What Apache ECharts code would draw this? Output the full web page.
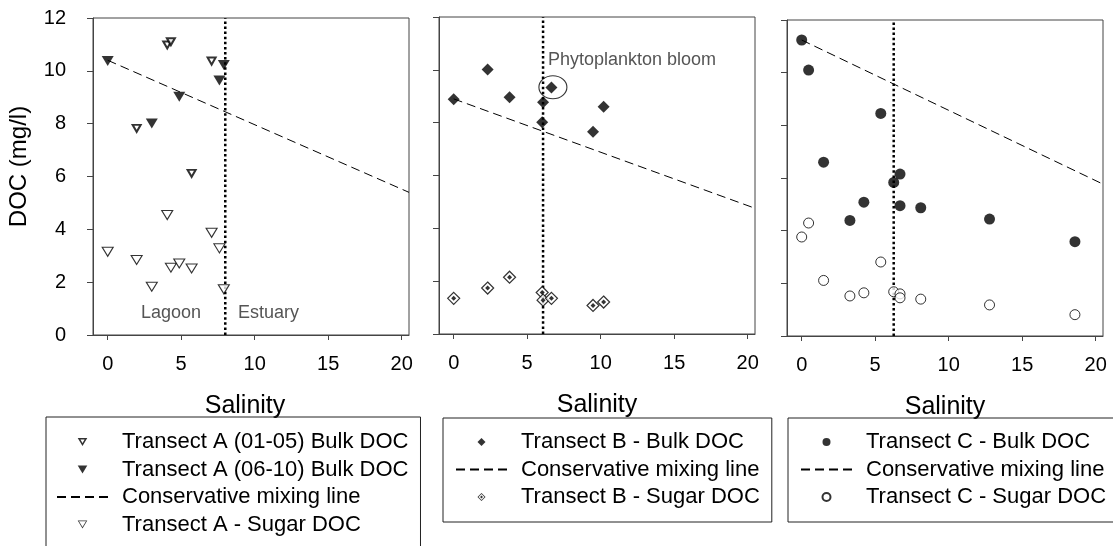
<!DOCTYPE html>
<html><head><meta charset="utf-8">
<script src="https://cdn.jsdelivr.net/npm/echarts@6/dist/echarts.min.js"></script>
<style>html,body{margin:0;padding:0;background:#fff}#c{width:1113px;height:546px}</style>
</head><body><div id="c"></div>
<script>
// ---- tick labels ----
const xTicks = [0, 5, 10, 15, 20];
const yTicks = [0, 2, 4, 6, 8, 10, 12];

// ---- Transect A ----
const aBulk0105X = [1.97, 4.05, 4.3, 5.71, 7.07];
const aBulk0105Y = [7.82, 10.98, 11.1, 6.12, 10.37];
const aBulk0610X = [0, 3.0, 4.87, 7.6, 7.9];
const aBulk0610Y = [10.37, 8.01, 9.02, 9.63, 10.22];
const aSugarX = [0, 1.97, 3.0, 4.05, 4.3, 4.87, 5.71, 7.07, 7.6, 7.9];
const aSugarY = [3.15, 2.84, 1.83, 4.54, 2.55, 2.71, 2.52, 3.87, 3.28, 1.73];
const aMixX = [0, 20.5];
const aMixY = [10.4, 5.4];
const aBoundary = 8.0;

// ---- Transect B ----
const bBulkX = [0, 2.31, 3.8, 6.08, 6.02, 6.65, 9.48, 10.2];
const bBulkY = [8.89, 10.01, 8.96, 8.77, 8.02, 9.33, 7.66, 8.6];
const bSugarX = [0, 2.31, 3.8, 6.02, 6.08, 6.65, 9.48, 10.2];
const bSugarY = [1.35, 1.74, 2.15, 1.57, 1.28, 1.35, 1.08, 1.21];
const bMixX = [0, 20.5];
const bMixY = [8.9, 4.76];
const bBoundary = 6.08;
const bBloomX = [6.75];
const bBloomY = [9.34];

// ---- Transect C ----
const cBulkX = [0, 0.47, 5.38, 1.49, 6.69, 6.26, 4.23, 6.69, 8.1, 3.28, 12.78, 18.59];
const cBulkY = [11.24, 10.1, 8.45, 6.6, 6.15, 5.83, 5.08, 4.95, 4.87, 4.39, 4.44, 3.58];
const cSugarX = [0, 0.47, 1.49, 3.28, 4.23, 5.38, 6.26, 6.69, 6.69, 8.1, 12.78, 18.59];
const cSugarY = [3.76, 4.29, 2.11, 1.52, 1.64, 2.81, 1.68, 1.6, 1.45, 1.4, 1.18, 0.81];
const cMixX = [0, 20.45];
const cMixY = [11.24, 5.78];
const cBoundary = 6.26;

const zip = (xs, ys) => xs.map((x, i) => [x, ys[i]]);
const FONT = 'Arial, "Liberation Sans", sans-serif';
const AX = '#444';

const grids = [
  {left: 93, top: 18, width: 316, height: 317},
  {left: 439, top: 17, width: 316, height: 317},
  {left: 787, top: 20, width: 316, height: 316}
].map(g => Object.assign({show: true, borderColor: AX, borderWidth: 1, backgroundColor: 'transparent'}, g));

const nameShift = [[0, 12, 0, 0], [0, 0, 0, 0], [0, 0, 0, 0]];
const xAxes = [0, 1, 2].map(i => ({
  type: 'value', gridIndex: i, min: -1, max: 20.5,
  name: 'Salinity', nameLocation: 'middle', nameGap: 59,
  nameTextStyle: {fontSize: 25, color: '#000', fontFamily: FONT, padding: nameShift[i]},
  axisLine: {show: true, onZero: false, lineStyle: {color: AX, width: 1}},
  axisTick: {show: true, length: 5, lineStyle: {color: AX}, customValues: xTicks},
  axisLabel: {show: true, fontSize: 20, color: '#000', fontFamily: FONT, margin: 19, customValues: xTicks},
  splitLine: {show: false}
}));
const yAxes = [0, 1, 2].map(i => ({
  type: 'value', gridIndex: i, min: yTicks[0], max: yTicks[yTicks.length - 1], interval: 2,
  name: i === 0 ? 'DOC (mg/l)' : '', nameLocation: 'middle', nameGap: 62, nameRotate: 90,
  nameTextStyle: {fontSize: 24, color: '#000', fontFamily: FONT, padding: [0, 0, 0, 20]},
  axisLine: {show: true, onZero: false, lineStyle: {color: AX, width: 1}},
  axisTick: {show: true, length: 6, lineStyle: {color: AX}},
  axisLabel: {show: i === 0, fontSize: 20, color: '#000', fontFamily: FONT, margin: 27},
  splitLine: {show: false}
}));

const MIX = 'Conservative mixing line';
function mixSeries(i, xs, ys) {
  return {name: MIX, type: 'line', xAxisIndex: i, yAxisIndex: i, data: zip(xs, ys),
    symbol: 'none', itemStyle: {color: 'rgba(0,0,0,0)'},
    lineStyle: {color: '#000', width: 1, type: [9, 5]}, z: 2, silent: true};
}
function boundarySeries(i, x) {
  return {name: 'boundary' + i, type: 'line', xAxisIndex: i, yAxisIndex: i,
    data: [[x, yTicks[0]], [x, yTicks[yTicks.length - 1]]], symbol: 'none',
    lineStyle: {color: '#000', width: 2.5, type: [2.5, 2.6]}, z: 1, silent: true};
}
function scatter(name, i, xs, ys, symbol, size, style, extra) {
  return Object.assign({name, type: 'scatter', xAxisIndex: i, yAxisIndex: i, data: zip(xs, ys),
    symbol, symbolSize: size, itemStyle: style, z: 5, silent: true}, extra || {});
}

const N = {
  a1: 'Transect A (01-05) Bulk DOC', a2: 'Transect A (06-10) Bulk DOC', as: 'Transect A - Sugar DOC',
  bb: 'Transect B - Bulk DOC', bs: 'Transect B - Sugar DOC',
  cb: 'Transect C - Bulk DOC', cs: 'Transect C - Sugar DOC'
};

const series = [
  boundarySeries(0, aBoundary), mixSeries(0, aMixX, aMixY),
  scatter(N.as, 0, aSugarX, aSugarY, 'triangle', [11, 9], {color: '#fff', borderColor: '#000', borderWidth: 1.1}, {symbolRotate: 180}),
  scatter(N.a1, 0, aBulk0105X, aBulk0105Y, 'triangle', [8, 7], {color: '#fff', borderColor: '#000', borderWidth: 2}, {symbolRotate: 180}),
  scatter(N.a2, 0, aBulk0610X, aBulk0610Y, 'triangle', [12, 10], {color: '#000'}, {symbolRotate: 180}),

  boundarySeries(1, bBoundary), mixSeries(1, bMixX, bMixY),
  scatter(N.bb, 1, bBulkX, bBulkY, 'diamond', 12, {color: '#000'}),
  scatter(N.bs, 1, bSugarX, bSugarY, 'diamond', 12, {color: '#fff', borderColor: '#000', borderWidth: 1.2}),
  scatter('bSugarDot', 1, bSugarX, bSugarY, 'diamond', 5, {color: '#000'}, {z: 6}),
  scatter('bloom', 1, bBloomX, bBloomY, 'circle', [28, 23], {color: 'rgba(0,0,0,0)', borderColor: '#000', borderWidth: 1}, {z: 4}),

  boundarySeries(2, cBoundary), mixSeries(2, cMixX, cMixY),
  scatter(N.cs, 2, cSugarX, cSugarY, 'circle', 10, {color: '#fff', borderColor: '#000', borderWidth: 1}),
  scatter(N.cb, 2, cBulkX, cBulkY, 'circle', 11, {color: '#000'})
];

// legend icons (nonzero winding: outer clockwise, hole counter-clockwise)
const triThin = 'path://M-6,-5L6,-5L0,5ZM-4.4,-4L0,3.1L4.4,-4Z';
const triThick = 'path://M-6,-5L6,-5L0,5ZM-2.6,-3.2L0,1.3L2.6,-3.2Z';
const triFill = 'path://M-6,-5L6,-5L0,5Z';
const diamondFill = 'path://M0,-6L6,0L0,6L-6,0Z';
const diamondDot = 'path://M0,-6L6,0L0,6L-6,0ZM0,-4.4L-4.4,0L0,4.4L4.4,0ZM0,-2.2L2.2,0L0,2.2L-2.2,0Z';
const blackIcon = {color: '#000', borderWidth: 0};
const legendBase = {
  orient: 'vertical', itemGap: 5.5, itemWidth: 51, itemHeight: 8,
  borderColor: '#222', borderWidth: 1, selectedMode: false,
  textStyle: {fontSize: 22, color: '#000', fontFamily: FONT, padding: [0, 0, 0, 9]}
};
const legends = [
  Object.assign({}, legendBase, {left: 46, top: 417, height: 120, padding: [14, 12, 16, 10],
    data: [{name: N.a1, icon: triThick, itemStyle: blackIcon},
           {name: N.a2, icon: triFill, itemStyle: blackIcon},
           MIX,
           {name: N.as, icon: triThin, itemStyle: blackIcon}]}),
  Object.assign({}, legendBase, {left: 443, top: 418, padding: [13, 12, 14, 12],
    data: [{name: N.bb, icon: diamondFill, itemStyle: blackIcon}, MIX,
           {name: N.bs, icon: diamondDot, itemStyle: blackIcon}]}),
  Object.assign({}, legendBase, {left: 788, top: 418, padding: [13, 20, 14, 12],
    data: [N.cb, MIX, N.cs]})
];

const chart = echarts.init(document.getElementById('c'), null, {renderer: 'canvas'});
chart.setOption({
  animation: false,
  backgroundColor: '#fff',
  grid: grids, xAxis: xAxes, yAxis: yAxes, legend: legends, series,
  graphic: [
    {type: 'text', x: 141, y: 304, style: {text: 'Lagoon', fill: '#555', font: '18px ' + FONT}},
    {type: 'text', x: 238, y: 304, style: {text: 'Estuary', fill: '#555', font: '18px ' + FONT}},
    {type: 'text', x: 548, y: 51, style: {text: 'Phytoplankton bloom', fill: '#555', font: '18px ' + FONT}}
  ]
});
</script></body></html>
